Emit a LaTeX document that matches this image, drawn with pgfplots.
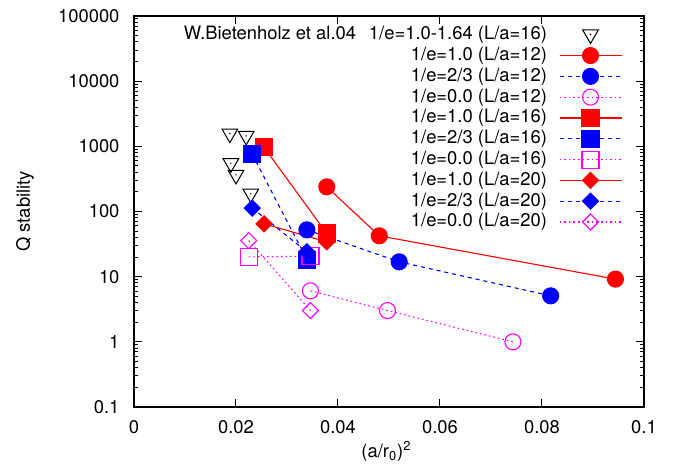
\documentclass[border=0pt]{standalone}
\usepackage{fontspec}
\setmainfont{TeX Gyre Heros}
\usepackage{pgfplots}
\pgfplotsset{compat=1.18}

\definecolor{gpred}{RGB}{255,0,0}
\definecolor{gpblue}{RGB}{0,0,255}
\definecolor{gpmag}{RGB}{255,0,255}

% inverted open triangle with a dot in the middle (gnuplot style)
\pgfdeclareplotmark{dtri}{%
  \pgfpathmoveto{\pgfqpointpolar{-90}{\pgfplotmarksize}}%
  \pgfpathlineto{\pgfqpointpolar{30}{\pgfplotmarksize}}%
  \pgfpathlineto{\pgfqpointpolar{150}{\pgfplotmarksize}}%
  \pgfpathclose
  \pgfusepathqstroke
  \pgfpathcircle{\pgfpointorigin}{0.4pt}%
  \pgfusepathqfill
}

\tikzset{
  l1/.style={color=gpred, line width=0.55pt, solid},
  l23/.style={color=gpblue, line width=0.55pt, dash pattern=on 2pt off 2pt},
  l0/.style={color=gpmag, line width=0.55pt, dash pattern=on 0.8pt off 1.5pt},
}
% legend sample: line of 31pt with the mark in the middle
\newcommand{\lgline}[3]{%
  \draw[#1] (0pt,0pt) -- (31pt,0pt);
  \draw[#1, solid] plot[mark=#2, mark options={#3}] coordinates {(15.5pt,0pt)};%
}

\begin{document}
{\fontsize{9.2}{11}\selectfont
\begin{tikzpicture}
\useasboundingbox (-67pt,-31.5pt) rectangle (273.5pt,203.5pt);
\begin{axis}[
  scale only axis,
  width=255pt, height=195.5pt,
  xmin=0, xmax=0.1,
  ymode=log, ymin=0.1, ymax=100000,
  xtick={0,0.02,0.04,0.06,0.08,0.1},
  xticklabels={0,0.02,0.04,0.06,0.08,0.1},
  ytick={0.1,1,10,100,1000,10000,100000},
  yticklabels={0.1,1,10,100,1000,10000,100000},
  /pgf/number format/assume math mode=true,
  tick align=inside,
  major tick length=4pt, minor tick length=2pt,
  every tick/.style={black, line width=0.5pt},
  axis line style={line width=0.6pt},
  xticklabel style={yshift=-3.5pt},
  yticklabel style={xshift=-4pt},
  xlabel={(a/r\textsubscript{0})\textsuperscript{2}},
  ylabel={Q stability},
  every axis x label/.style={at={(axis description cs:0.495,-0.1304)}, anchor=base},
  every axis y label/.style={at={(axis description cs:-0.2137,0.5)}, rotate=90, anchor=center},
  legend plot pos=right,
  legend cell align=right,
  legend style={draw=none, fill=none, inner sep=0pt, outer sep=0pt,
    at={(axis description cs:0.957,0.975)}, anchor=north east,
    column sep=6pt, row sep=1.7pt,
    nodes={inner sep=0pt, text height=6.8pt, text depth=1.9pt}},
]
% W.Bietenholz et al. 04
\addplot[black, only marks, mark=dtri, mark size=4.5pt, mark options={line width=0.5pt},
  legend image code/.code={\draw[black, line width=0.5pt] plot[only marks, mark=dtri, mark size=4.5pt] coordinates {(15.5pt,0pt)};}]
  coordinates {(0.0188,1566) (0.0220,1443) (0.0190,550) (0.0200,364) (0.0229,188)};
\addlegendentry{W.Bietenholz et al.04\hspace{0.7em}1/e=1.0-1.64 (L/a=16)}
% L/a=12
\addplot[l1, mark=*, mark size=4pt, mark options={solid},
  legend image code/.code={\lgline{l1}{*}{mark size=4pt}}]
  coordinates {(0.0378,239) (0.0481,42.3) (0.0944,9.17)};
\addlegendentry{1/e=1.0 (L/a=12)}
\addplot[l23, mark=*, mark size=4pt, mark options={solid},
  legend image code/.code={\lgline{l23}{*}{mark size=4pt}}]
  coordinates {(0.0339,52.3) (0.0520,16.9) (0.0817,5.08)};
\addlegendentry{1/e=2/3 (L/a=12)}
\addplot[l0, mark=o, mark size=4pt, mark options={solid},
  legend image code/.code={\lgline{l0}{o}{mark size=4pt}}]
  coordinates {(0.0346,6.06) (0.0497,3.02) (0.0743,1.0)};
\addlegendentry{1/e=0.0 (L/a=12)}
% L/a=16
\addplot[l1, mark=square*, mark size=4.25pt, mark options={solid},
  legend image code/.code={\lgline{l1}{square*}{mark size=4.25pt}}]
  coordinates {(0.0255,966) (0.0378,46)};
\addlegendentry{1/e=1.0 (L/a=16)}
\addplot[l23, mark=square*, mark size=4.25pt, mark options={solid},
  legend image code/.code={\lgline{l23}{square*}{mark size=4.25pt}}]
  coordinates {(0.0232,754) (0.0339,18.3)};
\addlegendentry{1/e=2/3 (L/a=16)}
\addplot[l0, mark=square, mark size=4.25pt, mark options={solid},
  legend image code/.code={\lgline{l0}{square}{mark size=4.25pt}}]
  coordinates {(0.0225,20.1) (0.0346,20.6)};
\addlegendentry{1/e=0.0 (L/a=16)}
% L/a=20
\addplot[l1, mark=square*, mark size=2.83pt, mark options={solid, rotate=45},
  legend image code/.code={\lgline{l1}{square*}{mark size=2.83pt, rotate=45}}]
  coordinates {(0.0255,64.7) (0.0378,34.2)};
\addlegendentry{1/e=1.0 (L/a=20)}
\addplot[l23, mark=square*, mark size=2.83pt, mark options={solid, rotate=45},
  legend image code/.code={\lgline{l23}{square*}{mark size=2.83pt, rotate=45}}]
  coordinates {(0.0232,112.6) (0.0339,24)};
\addlegendentry{1/e=2/3 (L/a=20)}
\addplot[l0, mark=square, mark size=2.83pt, mark options={solid, rotate=45},
  legend image code/.code={\lgline{l0}{square}{mark size=2.83pt, rotate=45}}]
  coordinates {(0.0225,35.8) (0.0346,3.02)};
\addlegendentry{1/e=0.0 (L/a=20)}
\end{axis}
\end{tikzpicture}}
\end{document}
